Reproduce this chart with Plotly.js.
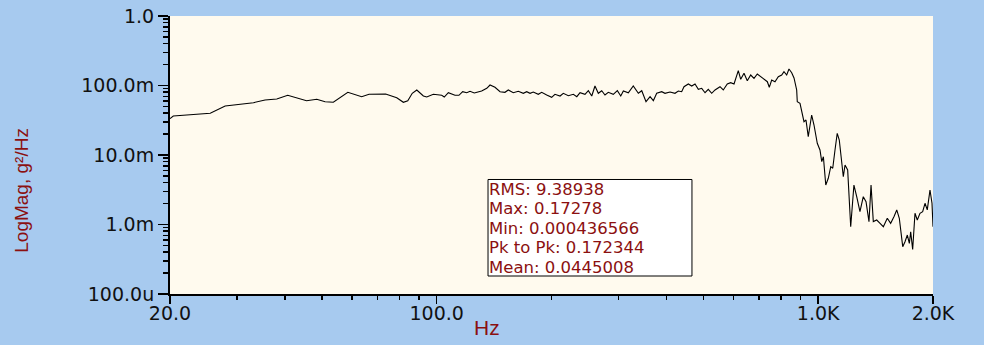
<!DOCTYPE html>
<html>
<head>
<meta charset="utf-8">
<script src="https://cdn.plot.ly/plotly-3.0.1.min.js"></script>
<style>
  html, body { margin: 0; padding: 0; background: #A7CAEF; }
  #chart { width: 984px; height: 345px; }
</style>
</head>
<body>
<div id="chart"></div>
<script>
// Frequency (Hz) of each spectrum point
const freqHz = [20, 20.4, 25.5, 27.9, 33.1, 35.5, 38.1, 40.7, 45.6, 48.5, 51.0, 53.6, 58.5, 63.6, 66.5, 73.5, 78.6, 81.8, 84.0, 86.3, 88.7, 92.3, 94.2, 98.0, 103.1, 104.7, 107.3, 111.7, 114.4, 117.0, 119.9, 122.3, 125.5, 131.2, 135.3, 138.0, 142.2,
  146.6, 151.0, 154.1, 158.8, 163.7, 168.7, 172.2, 175.7, 179.2, 184.7, 188.5, 194.3, 200.2, 204.2, 210.6, 214.8, 221.4, 228.2, 233.0, 237.6, 244.8, 249.8, 255.0, 260.0, 265.3, 270.8, 276.2, 281.8, 290.4, 297.6, 303.8, 308.6, 318.0, 327.6, 337.8, 344.8, 353.8, 362.6, 369.8, 377.4, 389.0, 396.8, 409.0,
  421.4, 430.0, 438.8, 445.0, 456.8, 466.2, 475.6, 485.2, 495.2, 505.2, 515.2, 526.0, 536.6, 553.0, 564.0, 577.8, 589.8, 601.8, 617.6, 626.6, 639.2, 652.0, 665.6, 679.0, 692.6, 707.0, 721.2, 735.8, 744.6, 755.4, 770.6, 786.2, 802.4, 813.6, 827.0, 838.6, 852.4, 864.4, 878.4, 881.6,
  896.2, 910.8, 918, 929.2, 942.0, 961.6, 975.2, 994.8, 1011, 1022, 1032, 1047, 1063, 1079, 1092, 1107, 1122, 1136, 1153, 1164, 1176, 1195, 1217, 1241, 1262, 1287, 1313, 1335, 1359, 1376, 1395, 1424, 1453, 1482, 1518, 1549, 1581, 1607, 1632, 1666, 1689, 1713, 1734, 1748, 1769, 1794, 1819, 1849, 1879, 1906, 1932, 1964, 1988, 2000];

// PSD magnitude (g^2/Hz)
const psd = [0.0333, 0.0364, 0.0398, 0.0507, 0.0566, 0.0619, 0.0639, 0.0723, 0.0604, 0.0633, 0.0585, 0.0573, 0.0798, 0.069, 0.0747, 0.0754, 0.0668, 0.0573, 0.0604, 0.0772, 0.0862, 0.0706, 0.0683, 0.0747, 0.0723, 0.0683, 0.0787, 0.0723, 0.0723, 0.0814, 0.0787, 0.0825, 0.078, 0.0833, 0.0911, 0.1017, 0.0942,
  0.0814, 0.0798, 0.0862, 0.0787, 0.0825, 0.0772, 0.0814, 0.0772, 0.0806, 0.0747, 0.0798, 0.073, 0.0676, 0.0747, 0.0706, 0.0772, 0.0713, 0.0747, 0.069, 0.0787, 0.0747, 0.0842, 0.0706, 0.0984, 0.0772, 0.0842, 0.073, 0.0798, 0.0747, 0.0842, 0.0706, 0.0833, 0.0787, 0.0984, 0.0772, 0.0842, 0.0585, 0.069, 0.0604, 0.0772, 0.0814, 0.0772, 0.0806,
  0.0772, 0.0833, 0.0814, 0.0961, 0.1051, 0.0984, 0.1051, 0.0882, 0.0911, 0.0787, 0.0882, 0.0772, 0.0862, 0.0961, 0.0862, 0.1051, 0.1097, 0.1051, 0.1633, 0.1228, 0.1498, 0.1172, 0.1416, 0.1269, 0.1464, 0.1338, 0.1228, 0.1134, 0.0942, 0.12, 0.1134, 0.1338, 0.1416, 0.158, 0.1416, 0.1728, 0.1528, 0.1282, 0.0862, 0.0585,
  0.0554, 0.0356, 0.0301, 0.0319, 0.01834, 0.0376, 0.027, 0.01474, 0.0118, 0.00801, 0.00945, 0.0037, 0.00462, 0.00679, 0.00644, 0.0118, 0.02052, 0.01643, 0.00679, 0.00487, 0.00718, 0.00608, 0.00093, 0.0037, 0.00251, 0.00153, 0.00251, 0.00213, 0.0011, 0.0037, 0.0011, 0.00116, 0.00104, 0.00093, 0.00123, 0.00104, 0.0013, 0.00162, 0.00123, 0.00048, 0.000566, 0.000706, 0.000536, 0.000788, 0.000437, 0.00145, 0.00116, 0.00145, 0.00153, 0.00202, 0.00162, 0.00314, 0.00202, 0.00093];

// Axis ticks
const xTickVals = [20, 100, 1000, 2000];
const xTickText = ["20.0", "100.0", "1.0K", "2.0K"];
const xMinorVals = [30, 40, 50, 60, 70, 80, 90, 200, 300, 400, 500, 600, 700, 800, 900];
const yTickVals = [1e-4, 1e-3, 1e-2, 1e-1, 1];
const yTickText = ["100.0u", "1.0m", "10.0m", "100.0m", "1.0"];

// Statistics box text
const statsLines = ["RMS: 9.38938", "Max: 0.17278", "Min: 0.000436566", "Pk to Pk: 0.172344", "Mean: 0.0445008"];

const yMinorVals = [];
for (let d = 0; d < yTickVals.length - 1; d++) {
  for (let k = 2; k <= 9; k++) yMinorVals.push(yTickVals[d] * k);
}

const darkRed = "#8B1010";
const tickFont = { family: "DejaVu Sans, Liberation Sans, Arial, sans-serif", size: 19, color: "#111111" };

const trace = {
  x: freqHz, y: psd, type: "scatter", mode: "lines",
  line: { color: "#000000", width: 1.1 },
  hoverinfo: "skip"
};

const annotations = [
  { text: "LogMag, g²/Hz", xref: "paper", yref: "paper", x: -0.194, y: 0.375,
    textangle: -90, showarrow: false, xanchor: "center", yanchor: "middle",
    font: { family: "Liberation Sans, Arial, sans-serif", size: 19, color: darkRed } },
  { text: "Hz", xref: "paper", yref: "paper", x: 0.4155, y: -0.122,
    showarrow: false, xanchor: "center", yanchor: "middle",
    font: { family: "Liberation Sans, Arial, sans-serif", size: 21, color: darkRed } }
];
statsLines.forEach((t, i) => {
  annotations.push({
    text: t, xref: "paper", yref: "paper", x: 0.4168, y: 0.3759 - i * 0.07014,
    showarrow: false, xanchor: "left", yanchor: "middle", borderpad: 0,
    font: { family: "DejaVu Sans, Liberation Sans, Arial, sans-serif", size: 16.5, color: darkRed }
  });
});

const layout = {
  width: 984, height: 345,
  margin: { l: 170, r: 51, t: 16, b: 51, pad: 0 },
  paper_bgcolor: "#A7CAEF",
  plot_bgcolor: "#FFFAEE",
  showlegend: false,
  xaxis: {
    type: "log",
    range: [Math.log10(xTickVals[0]), Math.log10(xTickVals[xTickVals.length - 1])],
    tickmode: "array", tickvals: xTickVals, ticktext: xTickText,
    ticks: "outside", ticklen: 8, tickwidth: 1.5, tickcolor: "#000",
    ticklabelstandoff: -7,
    showline: true, linecolor: "#000", linewidth: 2,
    showgrid: false, zeroline: false,
    tickfont: tickFont,
    minor: { tickmode: "array", tickvals: xMinorVals, ticks: "outside", ticklen: 4, tickwidth: 1.5, tickcolor: "#000", showgrid: false }
  },
  yaxis: {
    type: "log",
    range: [Math.log10(yTickVals[0]), Math.log10(yTickVals[yTickVals.length - 1])],
    tickmode: "array", tickvals: yTickVals, ticktext: yTickText,
    ticks: "outside", ticklen: 10, tickwidth: 1.5, tickcolor: "#000",
    showline: true, linecolor: "#000", linewidth: 2,
    showgrid: false, zeroline: false,
    tickfont: tickFont,
    minor: { tickmode: "array", tickvals: yMinorVals, ticks: "outside", ticklen: 5, tickwidth: 1.5, tickcolor: "#000", showgrid: false }
  },
  shapes: [
    { type: "rect", xref: "paper", yref: "paper", x0: 0.4168, x1: 0.6841, y0: 0.0647, y1: 0.4119,
      fillcolor: "#FFFFFF", line: { color: "#000000", width: 1 }, layer: "above" }
  ],
  annotations: annotations
};

Plotly.newPlot("chart", [trace], layout, { displayModeBar: false, staticPlot: true });
</script>
</body>
</html>
